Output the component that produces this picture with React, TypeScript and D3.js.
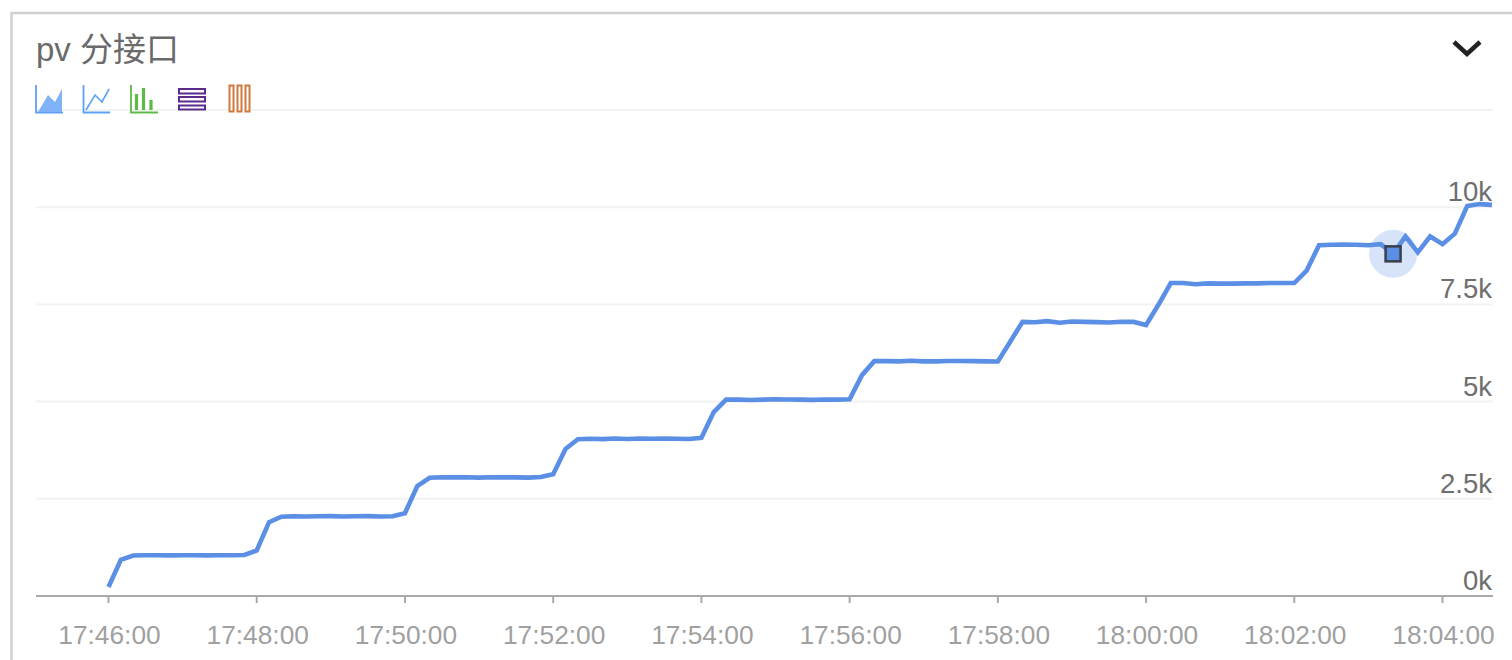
import React from "react";
import * as d3 from "d3";

const title = "pv 分接口";
const xTickLabels = ["17:46:00","17:48:00","17:50:00","17:52:00","17:54:00","17:56:00","17:58:00","18:00:00","18:02:00","18:04:00"];
const yGridValues = [0, 2500, 5000, 7500, 10000, 12500];
const yTickLabels = ["0k", "2.5k", "5k", "7.5k", "10k", ""];
const startTime = "17:46:00";
const highlightTime = "18:03:20";

// one sample every 10 seconds, from 17:46:00
const pv = [
  230, 930, 1040, 1050, 1050, 1045, 1050, 1050, 1045, 1050, 1050, 1055,
  1170, 1900, 2040, 2050, 2045, 2050, 2055, 2045, 2050, 2055, 2045, 2050,
  2130, 2830, 3040, 3055, 3050, 3055, 3045, 3055, 3050, 3050, 3045, 3060,
  3130, 3780, 4030, 4045, 4035, 4050, 4040, 4050, 4045, 4050, 4045, 4040,
  4070, 4730, 5050, 5050, 5040, 5050, 5060, 5055, 5050, 5045, 5055, 5050,
  5060, 5680, 6040, 6040, 6035, 6050, 6035, 6035, 6045, 6045, 6040, 6035,
  6030, 6540, 7050, 7040, 7070, 7030, 7060, 7050, 7045, 7035, 7055, 7050,
  6970, 7490, 8050, 8050, 8020, 8040, 8035, 8035, 8040, 8040, 8050, 8050,
  8050, 8370, 9020, 9035, 9040, 9035, 9020, 9050, 8800, 9250, 8840, 9250,
  9050, 9320, 10030, 10080, 10060,
];

const parse = d3.timeParse("%H:%M:%S");
const fmt = d3.timeFormat("%H:%M:%S");
const t0 = parse(startTime) as Date;
const times = pv.map((_, i) => d3.timeSecond.offset(t0, i * 10));
const latin = "'Liberation Sans', 'Noto Sans CJK SC', sans-serif";

export default function App() {
  const x = d3.scaleTime()
    .domain([t0, parse("18:04:00") as Date])
    .range([108.5, 1442.5]);
  const y = d3.scaleLinear().domain([0, 12500]).range([596, 110]);
  const line = d3.line<number>()
    .x((_, i) => x(times[i]))
    .y((d) => y(d));
  const hi = times.findIndex((t) => fmt(t) === highlightTime);
  const hx = x(times[hi]);
  const hy = y(pv[hi]);

  return (
    <svg width={1512} height={660} style={{ position: "absolute", left: 0, top: 0, background: "#fff" }}>
      <path d="M11.5 660V13H1512" fill="none" stroke="#d0d0d0" strokeWidth={2.5} />
      <text x={36} y={61} fontFamily={latin} fontSize={33} fill="#6a6a6a">{title}</text>

      {yGridValues.map((v) => v > 0 && (
        <line key={v} x1={36} x2={1493} y1={y(v)} y2={y(v)} stroke="#f2f2f2" strokeWidth={2} />
      ))}
      <line x1={36} x2={1493} y1={y(0)} y2={y(0)} stroke="#aaa" strokeWidth={2} />

      <g>
        <path d="M36 85V112.5H63" fill="none" stroke="#5ca0f8" strokeWidth={1.8} />
        <path d="M38 112L48 95L55 102L62 89V112Z" fill="#80b2f7" />
        <path d="M83.5 85V112.5H110" fill="none" stroke="#5ca0f8" strokeWidth={1.8} />
        <path d="M86 110L95 95L102 102L109 89" fill="none" stroke="#5ca0f8" strokeWidth={1.6} />
        <path d="M131 85V112.5H158" fill="none" stroke="#5cba46" strokeWidth={1.8} />
        <path d="M136.5 94V110M143.5 88V110M151 100V110" fill="none" stroke="#5cba46" strokeWidth={3.2} />
        <g fill="#fff" stroke="#5a2a8e" strokeWidth={2}>
          <rect x={179} y={89} width={26} height={4.5} />
          <rect x={179} y={97} width={26} height={4.5} />
          <rect x={179} y={105.5} width={26} height={4} />
        </g>
        <g fill="#fff" stroke="#cf7a3c" strokeWidth={2}>
          <rect x={229.5} y={85.5} width={4} height={26} />
          <rect x={237.5} y={85.5} width={4} height={26} />
          <rect x={245.5} y={85.5} width={4} height={26} />
        </g>
      </g>

      <path d="M1454 42L1467 54L1480 42" fill="none" stroke="#222" strokeWidth={4.5} />

      {xTickLabels.map((l) => {
        const px = x(parse(l) as Date);
        return (
          <g key={l}>
            <line x1={px} x2={px} y1={596} y2={603} stroke="#aaa" strokeWidth={2} />
            <text x={px + 1} y={644} textAnchor="middle" fontFamily={latin} fontSize={26.3} fill="#a0a0a0">{l}</text>
          </g>
        );
      })}
      {yGridValues.map((v, i) => yTickLabels[i] && (
        <text key={v} x={1492} y={y(v) - 6} textAnchor="end" fontFamily={latin} fontSize={27.5} fill="#6e6e6e">{yTickLabels[i]}</text>
      ))}

      <circle cx={hx} cy={hy} r={24} fill="#5b8fe6" fillOpacity={0.25} />
      <path d={line(pv) ?? ""} fill="none" stroke="#5b8fe6" strokeWidth={4.6} strokeLinejoin="miter" />
      <rect x={hx - 7.5} y={hy - 7.5} width={15} height={15} fill="#5b8fe6" stroke="#3a3f4a" strokeWidth={2.5} />
    </svg>
  );
}
